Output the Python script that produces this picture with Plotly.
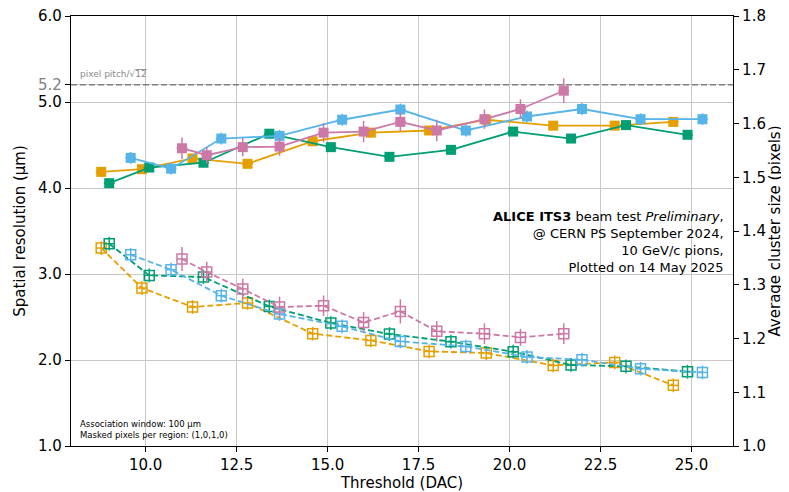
import plotly.graph_objects as go

# Threshold values (DAC) per series
thr_orange = [8.78, 9.90, 11.29, 12.80, 14.59, 16.19, 17.79, 19.36, 21.20, 22.89, 24.50]
thr_green = [9.00, 10.10, 11.59, 13.40, 15.09, 16.70, 18.39, 20.10, 21.69, 23.20, 24.89]
thr_blue = [9.59, 10.70, 12.08, 13.68, 15.40, 17.00, 18.80, 20.48, 21.99, 23.60, 25.30]
thr_pink = [11.00, 11.68, 12.67, 13.68, 14.89, 15.99, 17.00, 18.00, 19.31, 20.30, 21.49]

# Average cluster size (pixels), right axis
cls_orange = [1.510, 1.515, 1.535, 1.525, 1.567, 1.583, 1.587, 1.607, 1.596, 1.596, 1.603]
cls_green = [1.489, 1.518, 1.527, 1.581, 1.556, 1.538, 1.551, 1.585, 1.572, 1.597, 1.579]
cls_blue = [1.536, 1.516, 1.572, 1.577, 1.607, 1.626, 1.587, 1.613, 1.627, 1.608, 1.608]
cls_pink = [1.554, 1.541, 1.556, 1.557, 1.583, 1.585, 1.603, 1.587, 1.608, 1.627, 1.661]
cls_err_orange = [0.008] * 11
cls_err_green = [0.008] * 11
cls_err_blue = [0.011] * 11
cls_err_pink = [0.020, 0.015, 0.017, 0.017, 0.018, 0.020, 0.018, 0.020, 0.018, 0.018, 0.023]

# Spatial resolution (um), left axis
res_orange = [3.302, 2.837, 2.616, 2.663, 2.306, 2.228, 2.100, 2.081, 1.937, 1.972, 1.705]
res_green = [3.352, 2.984, 2.965, 2.623, 2.430, 2.302, 2.213, 2.096, 1.942, 1.926, 1.864]
res_blue = [3.224, 3.050, 2.748, 2.535, 2.391, 2.216, 2.158, 2.035, 2.003, 1.899, 1.856]
res_pink = [3.174, 3.023, 2.826, 2.616, 2.631, 2.437, 2.565, 2.333, 2.306, 2.263, 2.306]
res_err_orange = [0.08] * 11
res_err_green = [0.08] * 11
res_err_blue = [0.08] * 11
res_err_pink = [0.14, 0.12, 0.12, 0.12, 0.12, 0.12, 0.14, 0.12, 0.12, 0.10, 0.12]
thr_err = 0.15

pitch_limit = 5.2

colors = {"orange": "#E69F00", "green": "#009E73", "blue": "#56B4E9", "pink": "#CC79A7"}

series = [
    ("orange", thr_orange, cls_orange, cls_err_orange, res_orange, res_err_orange),
    ("green", thr_green, cls_green, cls_err_green, res_green, res_err_green),
    ("blue", thr_blue, cls_blue, cls_err_blue, res_blue, res_err_blue),
    ("pink", thr_pink, cls_pink, cls_err_pink, res_pink, res_err_pink),
]

fig = go.Figure()

for name, thr, cls, cls_err, res, res_err in series:
    c = colors[name]
    fig.add_trace(go.Scatter(
        x=thr, y=res, mode="lines+markers", yaxis="y",
        line=dict(color=c, width=1.8, dash="6px,3px"),
        marker=dict(symbol="square-open", size=10, color=c, line=dict(width=1.5, color=c)),
        error_y=dict(type="data", array=res_err, color=c, thickness=1.5, width=0),
        error_x=dict(type="constant", value=thr_err, color=c, thickness=1.5, width=0),
        showlegend=False,
    ))
for name, thr, cls, cls_err, res, res_err in series:
    c = colors[name]
    fig.add_trace(go.Scatter(
        x=thr, y=cls, mode="lines+markers", yaxis="y2",
        line=dict(color=c, width=1.8),
        marker=dict(symbol="square", size=10, color=c),
        error_y=dict(type="data", array=cls_err, color=c, thickness=1.5, width=0),
        error_x=dict(type="constant", value=thr_err, color=c, thickness=1.5, width=0),
        showlegend=False,
    ))

fig.add_shape(type="line", xref="paper", x0=0, x1=1, yref="y", y0=pitch_limit, y1=pitch_limit,
              line=dict(color="#808080", width=1.5, dash="6px,3px"))

font = "DejaVu Sans"
fig.add_annotation(xref="x", yref="y", x=8.15, y=5.33, xanchor="left", yanchor="middle",
                   text="pixel pitch/√<span style='text-decoration:overline'>12</span>",
                   showarrow=False, font=dict(family=font, size=9, color="#8a8a8a"))
fig.add_annotation(xref="paper", yref="paper", x=0.989, y=0.556, xanchor="right", yanchor="top",
                   align="right", showarrow=False,
                   text="<b>ALICE ITS3</b> beam test <i>Preliminary</i>,<br>@ CERN PS September 2024,<br>"
                        "10 GeV/c pions,<br>Plotted on 14 May 2025",
                   font=dict(family=font, size=13, color="black"))
fig.add_annotation(xref="paper", yref="paper", x=0.0106, y=0.009, xanchor="left", yanchor="bottom",
                   align="left", showarrow=False,
                   text="Association window: 100 µm<br>Masked pixels per region: (1,0,1,0)",
                   font=dict(family=font, size=8.5, color="black"))

left_ticks = [1.0, 2.0, 3.0, 4.0, 5.0, 5.2, 6.0]
left_text = ["1.0", "2.0", "3.0", "4.0", "5.0", "<span style='color:#808080'>5.2</span>", "6.0"]

axis_common = dict(showline=True, linecolor="black", linewidth=1.2, ticks="outside",
                   ticklen=5, tickcolor="black", tickfont=dict(family=font, size=15, color="black"),
                   zeroline=False, ticklabeloverflow="allow")

fig.update_layout(
    width=781, height=484,
    margin=dict(l=63, r=56, t=8, b=46, autoexpand=False),
    paper_bgcolor="white", plot_bgcolor="white",
    font=dict(family=font, color="black"),
    xaxis=dict(range=[7.95, 26.14], tickvals=[10, 12.5, 15, 17.5, 20, 22.5, 25],
               ticktext=["10.0", "12.5", "15.0", "17.5", "20.0", "22.5", "25.0"],
               showgrid=True, gridcolor="#c8c8c8", gridwidth=1, mirror=True,
               title=dict(text="Threshold (DAC)", font=dict(family=font, size=15), standoff=2),
               **axis_common),
    yaxis=dict(range=[1.0, 6.0], tickvals=left_ticks, ticktext=left_text,
               showgrid=True, gridcolor="#c8c8c8", gridwidth=1,
               title=dict(text="Spatial resolution (µm)", font=dict(family=font, size=15), standoff=8),
               **axis_common),
    yaxis2=dict(range=[1.0, 1.8], overlaying="y", side="right",
                tickvals=[1.0, 1.1, 1.2, 1.3, 1.4, 1.5, 1.6, 1.7, 1.8],
                ticktext=["1.0", "1.1", "1.2", "1.3", "1.4", "1.5", "1.6", "1.7", "1.8"],
                showgrid=False,
                title=dict(text="Average cluster size (pixels)", font=dict(family=font, size=15), standoff=2),
                **axis_common),
)

fig.write_html("out.html")
